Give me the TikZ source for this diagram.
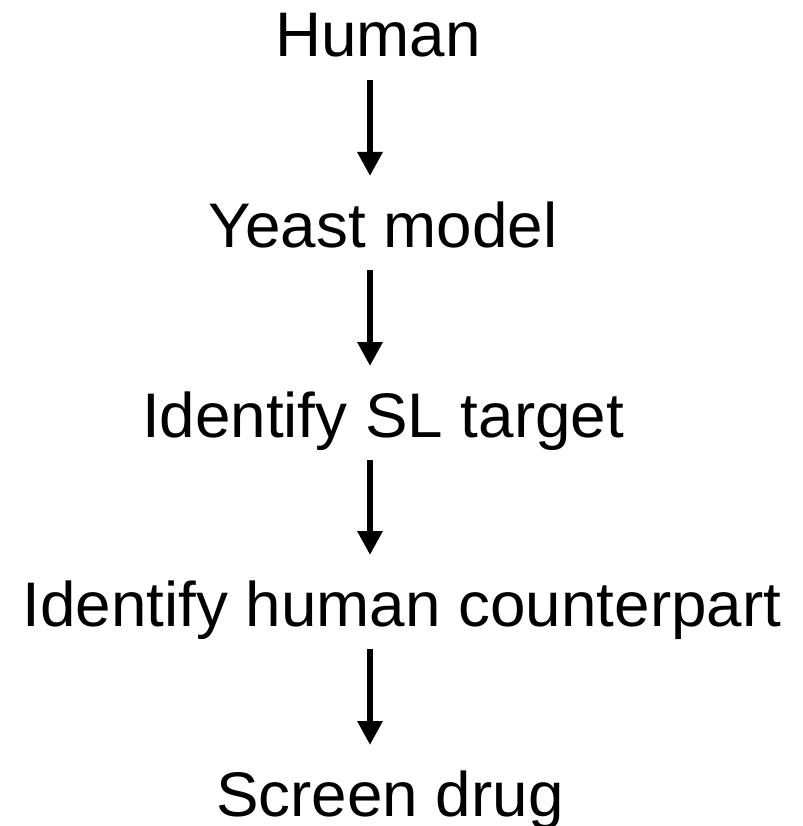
\documentclass[tikz,border=0pt]{standalone}
\usepackage{fontspec}
\setmainfont[FakeStretch=1.012]{Liberation Sans}
\usetikzlibrary{arrows.meta}
\begin{document}
\begin{tikzpicture}[x=1pt,y=1pt,
  label/.style={anchor=base,inner sep=0pt,font=\fontsize{63}{63}\selectfont},
  flow/.style={line width=6pt,-{Triangle[width=24pt,length=24pt]}}]
\useasboundingbox (0,0) rectangle (802,-826);
% steps of the pipeline
\node[label] (n1) at (378,-57)  {Human};
\node[label] (n2) at (383,-247) {Yeast model};
\node[label] (n3) at (383,-437) {Identify SL target};
\node[label] (n4) at (402,-626) {Identify human counterpart};
\node[label] (n5) at (390,-816) {Screen drug};
% common axis of the arrows
\coordinate (ax) at (370,0);
\foreach \a/\b in {n1/n2,n2/n3,n3/n4,n4/n5}{
  \path (\a.base -| ax) ++(0,-23) coordinate (s);
  \path (\b.base -| ax) ++(0,71) coordinate (e);
  \draw[flow] (s) -- (e);
}
\end{tikzpicture}
\end{document}
